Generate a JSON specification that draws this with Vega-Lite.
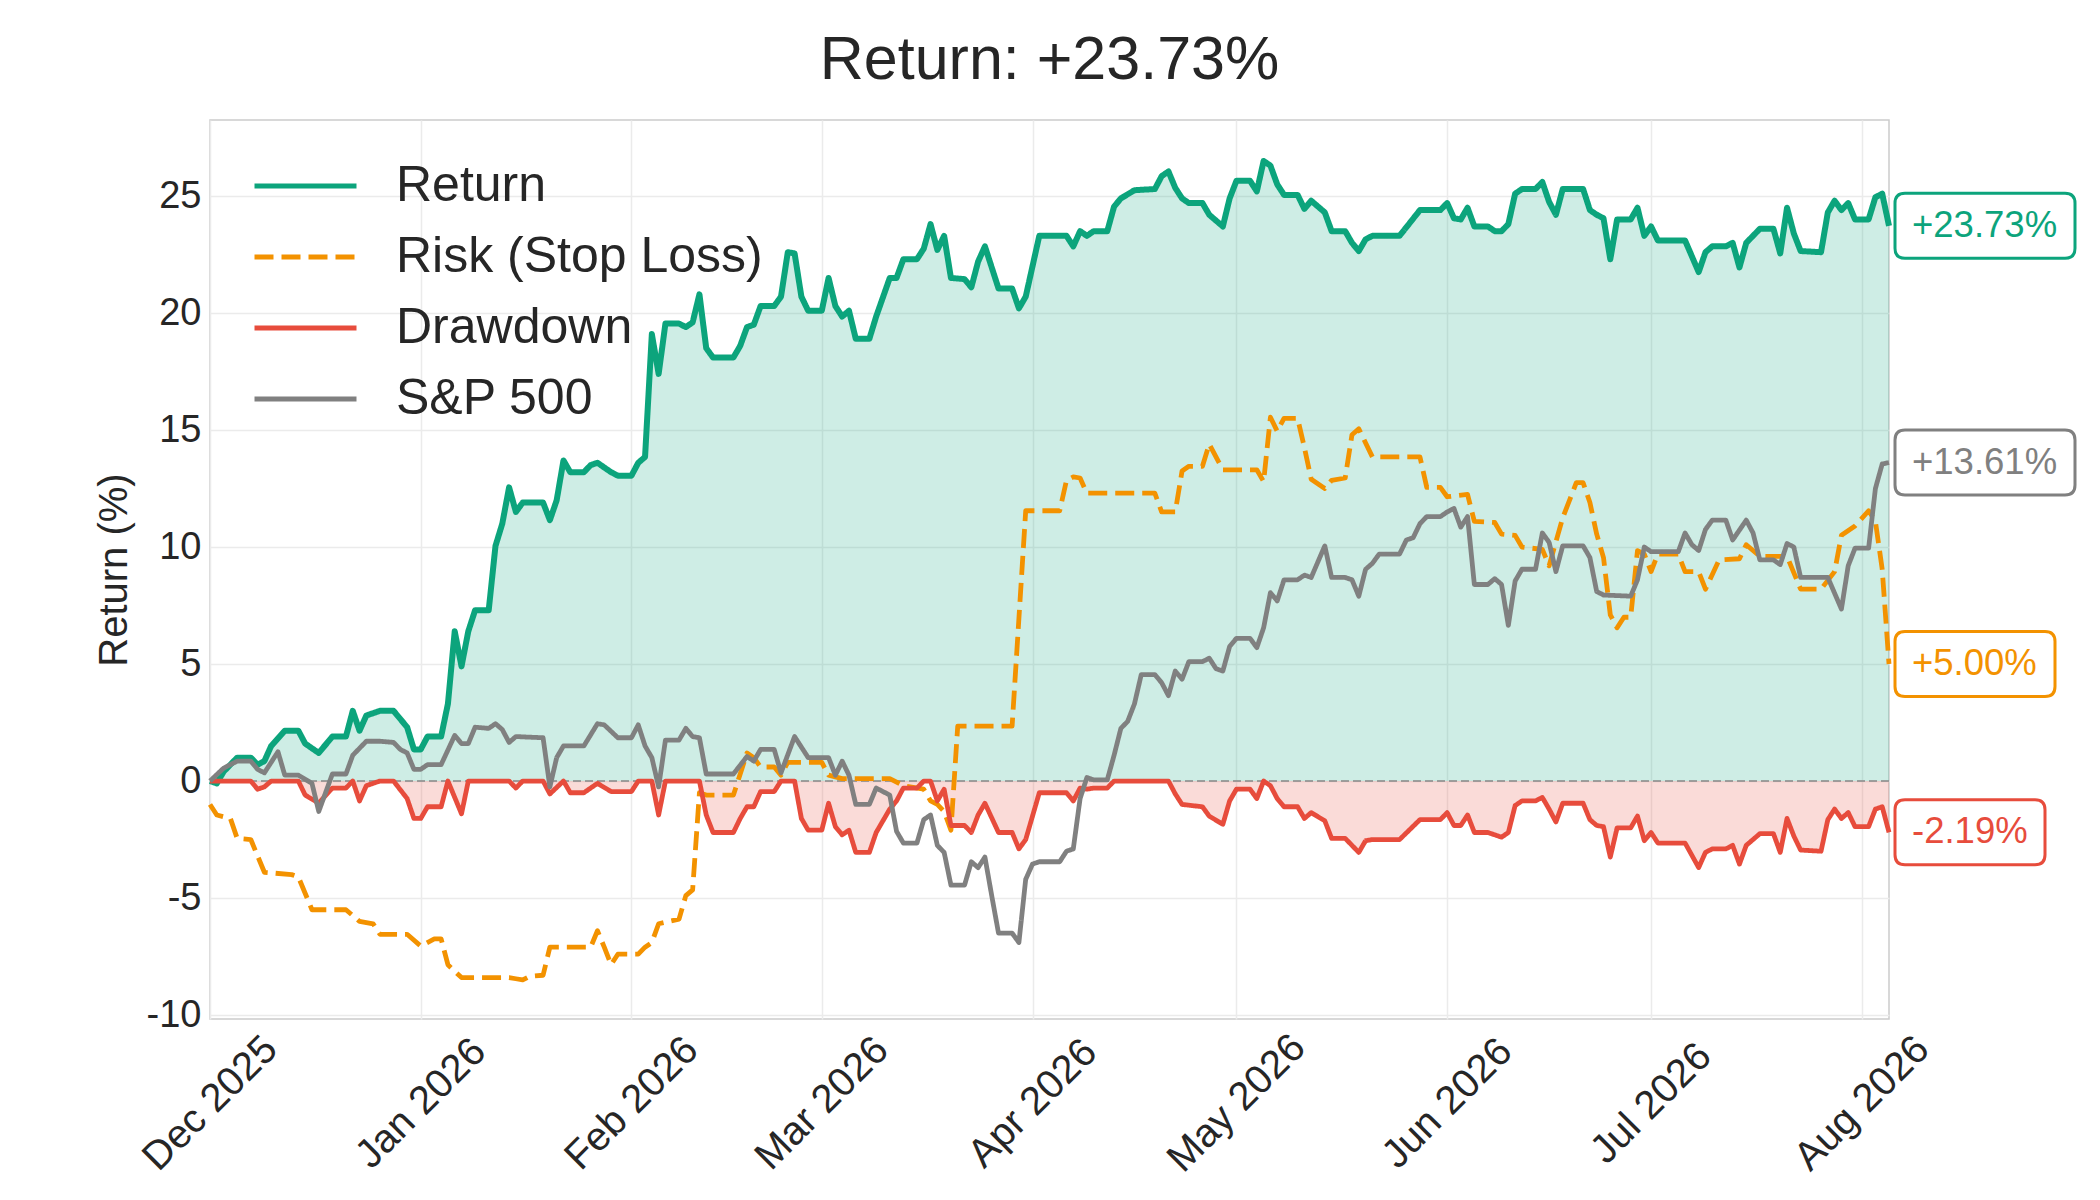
{
  "$schema": "https://vega.github.io/schema/vega-lite/v6.json",
  "description": "Strategy return vs risk, drawdown and S&P 500, Dec 2025 - Aug 2026.",
  "autosize": {"type": "none"},
  "padding": {"left": 210, "top": 120, "right": 211, "bottom": 181},
  "width": 1679,
  "height": 899,
  "background": "white",
  "title": {
    "text": "Return: +23.73%",
    "fontSize": 61,
    "fontWeight": "normal",
    "color": "#262626",
    "anchor": "middle",
    "baseline": "bottom",
    "offset": 29,
    "dy": 62
  },
  "config": {
    "font": "Liberation Sans",
    "view": {"stroke": "#cccccc", "strokeWidth": 1.5},
    "axis": {
      "labelFontSize": 38,
      "labelColor": "#262626",
      "titleColor": "#262626",
      "titleFontSize": 40,
      "titleFontWeight": "normal",
      "gridColor": "#ebebeb",
      "gridWidth": 1.5,
      "domain": false,
      "ticks": false
    }
  },
  "datasets": {
    "ends": [
      {"k": "R", "d": "2026-08-05", "v": 23.73, "lab": "+23.73%"},
      {"k": "S", "d": "2026-08-05", "v": 13.61, "lab": "+13.61%"},
      {"k": "K", "d": "2026-08-05", "v": 5.0, "lab": "+5.00%"},
      {"k": "D", "d": "2026-08-05", "v": -2.19, "lab": "-2.19%"}
    ]
  },
  "data": {
    "values": [
      {"d":"2025-12-01","s":"Return","v":0},
      {"d":"2025-12-02","s":"Return","v":-0.1},
      {"d":"2025-12-03","s":"Return","v":0.4},
      {"d":"2025-12-05","s":"Return","v":1.0},
      {"d":"2025-12-07","s":"Return","v":1.0},
      {"d":"2025-12-08","s":"Return","v":0.7},
      {"d":"2025-12-09","s":"Return","v":0.85},
      {"d":"2025-12-10","s":"Return","v":1.5},
      {"d":"2025-12-12","s":"Return","v":2.15},
      {"d":"2025-12-14","s":"Return","v":2.15},
      {"d":"2025-12-15","s":"Return","v":1.6},
      {"d":"2025-12-17","s":"Return","v":1.2},
      {"d":"2025-12-19","s":"Return","v":1.9},
      {"d":"2025-12-21","s":"Return","v":1.9},
      {"d":"2025-12-22","s":"Return","v":3.0},
      {"d":"2025-12-23","s":"Return","v":2.15},
      {"d":"2025-12-24","s":"Return","v":2.8},
      {"d":"2025-12-26","s":"Return","v":3.0},
      {"d":"2025-12-28","s":"Return","v":3.0},
      {"d":"2025-12-30","s":"Return","v":2.3},
      {"d":"2025-12-31","s":"Return","v":1.35},
      {"d":"2026-01-01","s":"Return","v":1.35},
      {"d":"2026-01-02","s":"Return","v":1.9},
      {"d":"2026-01-04","s":"Return","v":1.9},
      {"d":"2026-01-05","s":"Return","v":3.3},
      {"d":"2026-01-06","s":"Return","v":6.4},
      {"d":"2026-01-07","s":"Return","v":4.9},
      {"d":"2026-01-08","s":"Return","v":6.4},
      {"d":"2026-01-09","s":"Return","v":7.3},
      {"d":"2026-01-11","s":"Return","v":7.3},
      {"d":"2026-01-12","s":"Return","v":10.05},
      {"d":"2026-01-13","s":"Return","v":11.0},
      {"d":"2026-01-14","s":"Return","v":12.55},
      {"d":"2026-01-15","s":"Return","v":11.5},
      {"d":"2026-01-16","s":"Return","v":11.9},
      {"d":"2026-01-19","s":"Return","v":11.9},
      {"d":"2026-01-20","s":"Return","v":11.15},
      {"d":"2026-01-21","s":"Return","v":12.0},
      {"d":"2026-01-22","s":"Return","v":13.7},
      {"d":"2026-01-23","s":"Return","v":13.2},
      {"d":"2026-01-25","s":"Return","v":13.2},
      {"d":"2026-01-26","s":"Return","v":13.5},
      {"d":"2026-01-27","s":"Return","v":13.6},
      {"d":"2026-01-29","s":"Return","v":13.2},
      {"d":"2026-01-30","s":"Return","v":13.05},
      {"d":"2026-02-01","s":"Return","v":13.05},
      {"d":"2026-02-02","s":"Return","v":13.6},
      {"d":"2026-02-03","s":"Return","v":13.85},
      {"d":"2026-02-04","s":"Return","v":19.1},
      {"d":"2026-02-05","s":"Return","v":17.4},
      {"d":"2026-02-06","s":"Return","v":19.55},
      {"d":"2026-02-08","s":"Return","v":19.55},
      {"d":"2026-02-09","s":"Return","v":19.4},
      {"d":"2026-02-10","s":"Return","v":19.6},
      {"d":"2026-02-11","s":"Return","v":20.8},
      {"d":"2026-02-12","s":"Return","v":18.5},
      {"d":"2026-02-13","s":"Return","v":18.1},
      {"d":"2026-02-16","s":"Return","v":18.1},
      {"d":"2026-02-17","s":"Return","v":18.6},
      {"d":"2026-02-18","s":"Return","v":19.4},
      {"d":"2026-02-19","s":"Return","v":19.5},
      {"d":"2026-02-20","s":"Return","v":20.3},
      {"d":"2026-02-22","s":"Return","v":20.3},
      {"d":"2026-02-23","s":"Return","v":20.7},
      {"d":"2026-02-24","s":"Return","v":22.6},
      {"d":"2026-02-25","s":"Return","v":22.55},
      {"d":"2026-02-26","s":"Return","v":20.7},
      {"d":"2026-02-27","s":"Return","v":20.1},
      {"d":"2026-03-01","s":"Return","v":20.1},
      {"d":"2026-03-02","s":"Return","v":21.5},
      {"d":"2026-03-03","s":"Return","v":20.3},
      {"d":"2026-03-04","s":"Return","v":19.85},
      {"d":"2026-03-05","s":"Return","v":20.1},
      {"d":"2026-03-06","s":"Return","v":18.9},
      {"d":"2026-03-08","s":"Return","v":18.9},
      {"d":"2026-03-09","s":"Return","v":19.85},
      {"d":"2026-03-11","s":"Return","v":21.5},
      {"d":"2026-03-12","s":"Return","v":21.5},
      {"d":"2026-03-13","s":"Return","v":22.3},
      {"d":"2026-03-15","s":"Return","v":22.3},
      {"d":"2026-03-16","s":"Return","v":22.75},
      {"d":"2026-03-17","s":"Return","v":23.8},
      {"d":"2026-03-18","s":"Return","v":22.7},
      {"d":"2026-03-19","s":"Return","v":23.3},
      {"d":"2026-03-20","s":"Return","v":21.5},
      {"d":"2026-03-22","s":"Return","v":21.45},
      {"d":"2026-03-23","s":"Return","v":21.1},
      {"d":"2026-03-24","s":"Return","v":22.2},
      {"d":"2026-03-25","s":"Return","v":22.85},
      {"d":"2026-03-27","s":"Return","v":21.05},
      {"d":"2026-03-29","s":"Return","v":21.05},
      {"d":"2026-03-30","s":"Return","v":20.2},
      {"d":"2026-03-31","s":"Return","v":20.7},
      {"d":"2026-04-02","s":"Return","v":23.3},
      {"d":"2026-04-06","s":"Return","v":23.3},
      {"d":"2026-04-07","s":"Return","v":22.85},
      {"d":"2026-04-08","s":"Return","v":23.5},
      {"d":"2026-04-09","s":"Return","v":23.3},
      {"d":"2026-04-10","s":"Return","v":23.5},
      {"d":"2026-04-12","s":"Return","v":23.5},
      {"d":"2026-04-13","s":"Return","v":24.55},
      {"d":"2026-04-14","s":"Return","v":24.9},
      {"d":"2026-04-16","s":"Return","v":25.25},
      {"d":"2026-04-19","s":"Return","v":25.3},
      {"d":"2026-04-20","s":"Return","v":25.85},
      {"d":"2026-04-21","s":"Return","v":26.05},
      {"d":"2026-04-22","s":"Return","v":25.35},
      {"d":"2026-04-23","s":"Return","v":24.9},
      {"d":"2026-04-24","s":"Return","v":24.7},
      {"d":"2026-04-26","s":"Return","v":24.7},
      {"d":"2026-04-27","s":"Return","v":24.2},
      {"d":"2026-04-29","s":"Return","v":23.7},
      {"d":"2026-04-30","s":"Return","v":24.9},
      {"d":"2026-05-01","s":"Return","v":25.65},
      {"d":"2026-05-03","s":"Return","v":25.65},
      {"d":"2026-05-04","s":"Return","v":25.2},
      {"d":"2026-05-05","s":"Return","v":26.5},
      {"d":"2026-05-06","s":"Return","v":26.3},
      {"d":"2026-05-07","s":"Return","v":25.5},
      {"d":"2026-05-08","s":"Return","v":25.05},
      {"d":"2026-05-10","s":"Return","v":25.05},
      {"d":"2026-05-11","s":"Return","v":24.45},
      {"d":"2026-05-12","s":"Return","v":24.8},
      {"d":"2026-05-14","s":"Return","v":24.3},
      {"d":"2026-05-15","s":"Return","v":23.5},
      {"d":"2026-05-17","s":"Return","v":23.5},
      {"d":"2026-05-18","s":"Return","v":23.0},
      {"d":"2026-05-19","s":"Return","v":22.65},
      {"d":"2026-05-20","s":"Return","v":23.15},
      {"d":"2026-05-21","s":"Return","v":23.3},
      {"d":"2026-05-25","s":"Return","v":23.3},
      {"d":"2026-05-28","s":"Return","v":24.4},
      {"d":"2026-05-31","s":"Return","v":24.4},
      {"d":"2026-06-01","s":"Return","v":24.7},
      {"d":"2026-06-02","s":"Return","v":24.05},
      {"d":"2026-06-03","s":"Return","v":24.0},
      {"d":"2026-06-04","s":"Return","v":24.5},
      {"d":"2026-06-05","s":"Return","v":23.7},
      {"d":"2026-06-07","s":"Return","v":23.7},
      {"d":"2026-06-08","s":"Return","v":23.5},
      {"d":"2026-06-09","s":"Return","v":23.5},
      {"d":"2026-06-10","s":"Return","v":23.8},
      {"d":"2026-06-11","s":"Return","v":25.1},
      {"d":"2026-06-12","s":"Return","v":25.3},
      {"d":"2026-06-14","s":"Return","v":25.3},
      {"d":"2026-06-15","s":"Return","v":25.6},
      {"d":"2026-06-16","s":"Return","v":24.75},
      {"d":"2026-06-17","s":"Return","v":24.2},
      {"d":"2026-06-18","s":"Return","v":25.3},
      {"d":"2026-06-21","s":"Return","v":25.3},
      {"d":"2026-06-22","s":"Return","v":24.4},
      {"d":"2026-06-23","s":"Return","v":24.2},
      {"d":"2026-06-24","s":"Return","v":24.05},
      {"d":"2026-06-25","s":"Return","v":22.3},
      {"d":"2026-06-26","s":"Return","v":24.0},
      {"d":"2026-06-28","s":"Return","v":24.0},
      {"d":"2026-06-29","s":"Return","v":24.5},
      {"d":"2026-06-30","s":"Return","v":23.3},
      {"d":"2026-07-01","s":"Return","v":23.7},
      {"d":"2026-07-02","s":"Return","v":23.1},
      {"d":"2026-07-06","s":"Return","v":23.1},
      {"d":"2026-07-08","s":"Return","v":21.75},
      {"d":"2026-07-09","s":"Return","v":22.6},
      {"d":"2026-07-10","s":"Return","v":22.85},
      {"d":"2026-07-12","s":"Return","v":22.85},
      {"d":"2026-07-13","s":"Return","v":23.0},
      {"d":"2026-07-14","s":"Return","v":21.95},
      {"d":"2026-07-15","s":"Return","v":23.0},
      {"d":"2026-07-17","s":"Return","v":23.6},
      {"d":"2026-07-19","s":"Return","v":23.6},
      {"d":"2026-07-20","s":"Return","v":22.55},
      {"d":"2026-07-21","s":"Return","v":24.5},
      {"d":"2026-07-22","s":"Return","v":23.4},
      {"d":"2026-07-23","s":"Return","v":22.65},
      {"d":"2026-07-26","s":"Return","v":22.6},
      {"d":"2026-07-27","s":"Return","v":24.3},
      {"d":"2026-07-28","s":"Return","v":24.8},
      {"d":"2026-07-29","s":"Return","v":24.4},
      {"d":"2026-07-30","s":"Return","v":24.7},
      {"d":"2026-07-31","s":"Return","v":24.0},
      {"d":"2026-08-02","s":"Return","v":24.0},
      {"d":"2026-08-03","s":"Return","v":24.95},
      {"d":"2026-08-04","s":"Return","v":25.1},
      {"d":"2026-08-05","s":"Return","v":23.73},

      {"d":"2025-12-01","s":"Risk (Stop Loss)","v":-1.0},
      {"d":"2025-12-02","s":"Risk (Stop Loss)","v":-1.45},
      {"d":"2025-12-04","s":"Risk (Stop Loss)","v":-1.6},
      {"d":"2025-12-05","s":"Risk (Stop Loss)","v":-2.45},
      {"d":"2025-12-07","s":"Risk (Stop Loss)","v":-2.5},
      {"d":"2025-12-09","s":"Risk (Stop Loss)","v":-3.9},
      {"d":"2025-12-13","s":"Risk (Stop Loss)","v":-4.0},
      {"d":"2025-12-14","s":"Risk (Stop Loss)","v":-4.1},
      {"d":"2025-12-16","s":"Risk (Stop Loss)","v":-5.5},
      {"d":"2025-12-21","s":"Risk (Stop Loss)","v":-5.5},
      {"d":"2025-12-23","s":"Risk (Stop Loss)","v":-6.0},
      {"d":"2025-12-25","s":"Risk (Stop Loss)","v":-6.1},
      {"d":"2025-12-26","s":"Risk (Stop Loss)","v":-6.55},
      {"d":"2025-12-30","s":"Risk (Stop Loss)","v":-6.55},
      {"d":"2026-01-01","s":"Risk (Stop Loss)","v":-7.05},
      {"d":"2026-01-03","s":"Risk (Stop Loss)","v":-6.75},
      {"d":"2026-01-04","s":"Risk (Stop Loss)","v":-6.75},
      {"d":"2026-01-05","s":"Risk (Stop Loss)","v":-7.85},
      {"d":"2026-01-07","s":"Risk (Stop Loss)","v":-8.4},
      {"d":"2026-01-14","s":"Risk (Stop Loss)","v":-8.4},
      {"d":"2026-01-15","s":"Risk (Stop Loss)","v":-8.45},
      {"d":"2026-01-16","s":"Risk (Stop Loss)","v":-8.5},
      {"d":"2026-01-17","s":"Risk (Stop Loss)","v":-8.35},
      {"d":"2026-01-19","s":"Risk (Stop Loss)","v":-8.3},
      {"d":"2026-01-20","s":"Risk (Stop Loss)","v":-7.1},
      {"d":"2026-01-26","s":"Risk (Stop Loss)","v":-7.1},
      {"d":"2026-01-27","s":"Risk (Stop Loss)","v":-6.4},
      {"d":"2026-01-28","s":"Risk (Stop Loss)","v":-7.1},
      {"d":"2026-01-29","s":"Risk (Stop Loss)","v":-7.85},
      {"d":"2026-01-30","s":"Risk (Stop Loss)","v":-7.4},
      {"d":"2026-02-02","s":"Risk (Stop Loss)","v":-7.4},
      {"d":"2026-02-03","s":"Risk (Stop Loss)","v":-7.1},
      {"d":"2026-02-04","s":"Risk (Stop Loss)","v":-6.9},
      {"d":"2026-02-05","s":"Risk (Stop Loss)","v":-6.1},
      {"d":"2026-02-08","s":"Risk (Stop Loss)","v":-5.9},
      {"d":"2026-02-09","s":"Risk (Stop Loss)","v":-4.9},
      {"d":"2026-02-10","s":"Risk (Stop Loss)","v":-4.65},
      {"d":"2026-02-11","s":"Risk (Stop Loss)","v":-0.5},
      {"d":"2026-02-12","s":"Risk (Stop Loss)","v":-0.6},
      {"d":"2026-02-16","s":"Risk (Stop Loss)","v":-0.6},
      {"d":"2026-02-18","s":"Risk (Stop Loss)","v":1.2},
      {"d":"2026-02-19","s":"Risk (Stop Loss)","v":1.0},
      {"d":"2026-02-20","s":"Risk (Stop Loss)","v":0.6},
      {"d":"2026-02-22","s":"Risk (Stop Loss)","v":0.6},
      {"d":"2026-02-23","s":"Risk (Stop Loss)","v":0.25},
      {"d":"2026-02-24","s":"Risk (Stop Loss)","v":0.8},
      {"d":"2026-03-01","s":"Risk (Stop Loss)","v":0.8},
      {"d":"2026-03-02","s":"Risk (Stop Loss)","v":0.25},
      {"d":"2026-03-04","s":"Risk (Stop Loss)","v":0.1},
      {"d":"2026-03-11","s":"Risk (Stop Loss)","v":0.1},
      {"d":"2026-03-13","s":"Risk (Stop Loss)","v":-0.2},
      {"d":"2026-03-16","s":"Risk (Stop Loss)","v":-0.35},
      {"d":"2026-03-17","s":"Risk (Stop Loss)","v":-0.85},
      {"d":"2026-03-18","s":"Risk (Stop Loss)","v":-1.0},
      {"d":"2026-03-19","s":"Risk (Stop Loss)","v":-1.3},
      {"d":"2026-03-20","s":"Risk (Stop Loss)","v":-2.1},
      {"d":"2026-03-21","s":"Risk (Stop Loss)","v":2.35},
      {"d":"2026-03-29","s":"Risk (Stop Loss)","v":2.35},
      {"d":"2026-03-31","s":"Risk (Stop Loss)","v":11.55},
      {"d":"2026-04-05","s":"Risk (Stop Loss)","v":11.55},
      {"d":"2026-04-06","s":"Risk (Stop Loss)","v":12.85},
      {"d":"2026-04-07","s":"Risk (Stop Loss)","v":13.0},
      {"d":"2026-04-08","s":"Risk (Stop Loss)","v":12.95},
      {"d":"2026-04-09","s":"Risk (Stop Loss)","v":12.3},
      {"d":"2026-04-19","s":"Risk (Stop Loss)","v":12.3},
      {"d":"2026-04-20","s":"Risk (Stop Loss)","v":11.5},
      {"d":"2026-04-22","s":"Risk (Stop Loss)","v":11.5},
      {"d":"2026-04-23","s":"Risk (Stop Loss)","v":13.25},
      {"d":"2026-04-24","s":"Risk (Stop Loss)","v":13.45},
      {"d":"2026-04-26","s":"Risk (Stop Loss)","v":13.45},
      {"d":"2026-04-27","s":"Risk (Stop Loss)","v":14.4},
      {"d":"2026-04-29","s":"Risk (Stop Loss)","v":13.3},
      {"d":"2026-05-04","s":"Risk (Stop Loss)","v":13.3},
      {"d":"2026-05-05","s":"Risk (Stop Loss)","v":12.8},
      {"d":"2026-05-06","s":"Risk (Stop Loss)","v":15.55},
      {"d":"2026-05-07","s":"Risk (Stop Loss)","v":14.95},
      {"d":"2026-05-08","s":"Risk (Stop Loss)","v":15.5},
      {"d":"2026-05-10","s":"Risk (Stop Loss)","v":15.5},
      {"d":"2026-05-11","s":"Risk (Stop Loss)","v":14.25},
      {"d":"2026-05-12","s":"Risk (Stop Loss)","v":12.9},
      {"d":"2026-05-14","s":"Risk (Stop Loss)","v":12.5},
      {"d":"2026-05-15","s":"Risk (Stop Loss)","v":12.85},
      {"d":"2026-05-17","s":"Risk (Stop Loss)","v":12.95},
      {"d":"2026-05-18","s":"Risk (Stop Loss)","v":14.8},
      {"d":"2026-05-19","s":"Risk (Stop Loss)","v":15.05},
      {"d":"2026-05-21","s":"Risk (Stop Loss)","v":13.85},
      {"d":"2026-05-28","s":"Risk (Stop Loss)","v":13.85},
      {"d":"2026-05-29","s":"Risk (Stop Loss)","v":12.55},
      {"d":"2026-05-31","s":"Risk (Stop Loss)","v":12.55},
      {"d":"2026-06-01","s":"Risk (Stop Loss)","v":12.15},
      {"d":"2026-06-04","s":"Risk (Stop Loss)","v":12.25},
      {"d":"2026-06-05","s":"Risk (Stop Loss)","v":11.1},
      {"d":"2026-06-08","s":"Risk (Stop Loss)","v":11.05},
      {"d":"2026-06-09","s":"Risk (Stop Loss)","v":10.55},
      {"d":"2026-06-11","s":"Risk (Stop Loss)","v":10.5},
      {"d":"2026-06-12","s":"Risk (Stop Loss)","v":10.0},
      {"d":"2026-06-15","s":"Risk (Stop Loss)","v":9.9},
      {"d":"2026-06-16","s":"Risk (Stop Loss)","v":9.2},
      {"d":"2026-06-18","s":"Risk (Stop Loss)","v":11.25},
      {"d":"2026-06-20","s":"Risk (Stop Loss)","v":12.75},
      {"d":"2026-06-21","s":"Risk (Stop Loss)","v":12.75},
      {"d":"2026-06-22","s":"Risk (Stop Loss)","v":11.9},
      {"d":"2026-06-23","s":"Risk (Stop Loss)","v":10.55},
      {"d":"2026-06-24","s":"Risk (Stop Loss)","v":9.55},
      {"d":"2026-06-25","s":"Risk (Stop Loss)","v":7.1},
      {"d":"2026-06-26","s":"Risk (Stop Loss)","v":6.55},
      {"d":"2026-06-27","s":"Risk (Stop Loss)","v":7.0},
      {"d":"2026-06-28","s":"Risk (Stop Loss)","v":7.0},
      {"d":"2026-06-29","s":"Risk (Stop Loss)","v":9.85},
      {"d":"2026-06-30","s":"Risk (Stop Loss)","v":9.7},
      {"d":"2026-07-01","s":"Risk (Stop Loss)","v":8.95},
      {"d":"2026-07-02","s":"Risk (Stop Loss)","v":9.7},
      {"d":"2026-07-05","s":"Risk (Stop Loss)","v":9.7},
      {"d":"2026-07-06","s":"Risk (Stop Loss)","v":8.95},
      {"d":"2026-07-08","s":"Risk (Stop Loss)","v":8.95},
      {"d":"2026-07-09","s":"Risk (Stop Loss)","v":8.2},
      {"d":"2026-07-11","s":"Risk (Stop Loss)","v":9.45},
      {"d":"2026-07-14","s":"Risk (Stop Loss)","v":9.5},
      {"d":"2026-07-15","s":"Risk (Stop Loss)","v":10.1},
      {"d":"2026-07-17","s":"Risk (Stop Loss)","v":9.6},
      {"d":"2026-07-21","s":"Risk (Stop Loss)","v":9.6},
      {"d":"2026-07-23","s":"Risk (Stop Loss)","v":8.2},
      {"d":"2026-07-26","s":"Risk (Stop Loss)","v":8.2},
      {"d":"2026-07-28","s":"Risk (Stop Loss)","v":8.95},
      {"d":"2026-07-29","s":"Risk (Stop Loss)","v":10.5},
      {"d":"2026-07-31","s":"Risk (Stop Loss)","v":10.9},
      {"d":"2026-08-02","s":"Risk (Stop Loss)","v":11.55},
      {"d":"2026-08-03","s":"Risk (Stop Loss)","v":11.1},
      {"d":"2026-08-04","s":"Risk (Stop Loss)","v":9.05},
      {"d":"2026-08-05","s":"Risk (Stop Loss)","v":5.0},

      {"d":"2025-12-01","s":"Drawdown","v":0},
      {"d":"2025-12-07","s":"Drawdown","v":0},
      {"d":"2025-12-08","s":"Drawdown","v":-0.35},
      {"d":"2025-12-09","s":"Drawdown","v":-0.25},
      {"d":"2025-12-10","s":"Drawdown","v":0},
      {"d":"2025-12-14","s":"Drawdown","v":0},
      {"d":"2025-12-15","s":"Drawdown","v":-0.6},
      {"d":"2025-12-17","s":"Drawdown","v":-0.95},
      {"d":"2025-12-19","s":"Drawdown","v":-0.3},
      {"d":"2025-12-21","s":"Drawdown","v":-0.3},
      {"d":"2025-12-22","s":"Drawdown","v":0},
      {"d":"2025-12-23","s":"Drawdown","v":-0.85},
      {"d":"2025-12-24","s":"Drawdown","v":-0.2},
      {"d":"2025-12-26","s":"Drawdown","v":0},
      {"d":"2025-12-28","s":"Drawdown","v":0},
      {"d":"2025-12-30","s":"Drawdown","v":-0.75},
      {"d":"2025-12-31","s":"Drawdown","v":-1.6},
      {"d":"2026-01-01","s":"Drawdown","v":-1.6},
      {"d":"2026-01-02","s":"Drawdown","v":-1.1},
      {"d":"2026-01-04","s":"Drawdown","v":-1.1},
      {"d":"2026-01-05","s":"Drawdown","v":0},
      {"d":"2026-01-07","s":"Drawdown","v":-1.4},
      {"d":"2026-01-08","s":"Drawdown","v":0},
      {"d":"2026-01-14","s":"Drawdown","v":0},
      {"d":"2026-01-15","s":"Drawdown","v":-0.3},
      {"d":"2026-01-16","s":"Drawdown","v":0},
      {"d":"2026-01-19","s":"Drawdown","v":0},
      {"d":"2026-01-20","s":"Drawdown","v":-0.55},
      {"d":"2026-01-22","s":"Drawdown","v":0},
      {"d":"2026-01-23","s":"Drawdown","v":-0.5},
      {"d":"2026-01-25","s":"Drawdown","v":-0.5},
      {"d":"2026-01-27","s":"Drawdown","v":-0.1},
      {"d":"2026-01-29","s":"Drawdown","v":-0.45},
      {"d":"2026-02-01","s":"Drawdown","v":-0.45},
      {"d":"2026-02-02","s":"Drawdown","v":0},
      {"d":"2026-02-04","s":"Drawdown","v":0},
      {"d":"2026-02-05","s":"Drawdown","v":-1.45},
      {"d":"2026-02-06","s":"Drawdown","v":0},
      {"d":"2026-02-11","s":"Drawdown","v":0},
      {"d":"2026-02-12","s":"Drawdown","v":-1.45},
      {"d":"2026-02-13","s":"Drawdown","v":-2.2},
      {"d":"2026-02-16","s":"Drawdown","v":-2.2},
      {"d":"2026-02-17","s":"Drawdown","v":-1.6},
      {"d":"2026-02-18","s":"Drawdown","v":-1.1},
      {"d":"2026-02-19","s":"Drawdown","v":-1.1},
      {"d":"2026-02-20","s":"Drawdown","v":-0.45},
      {"d":"2026-02-22","s":"Drawdown","v":-0.45},
      {"d":"2026-02-23","s":"Drawdown","v":0},
      {"d":"2026-02-25","s":"Drawdown","v":0},
      {"d":"2026-02-26","s":"Drawdown","v":-1.6},
      {"d":"2026-02-27","s":"Drawdown","v":-2.1},
      {"d":"2026-03-01","s":"Drawdown","v":-2.1},
      {"d":"2026-03-02","s":"Drawdown","v":-0.95},
      {"d":"2026-03-03","s":"Drawdown","v":-1.95},
      {"d":"2026-03-04","s":"Drawdown","v":-2.3},
      {"d":"2026-03-05","s":"Drawdown","v":-2.1},
      {"d":"2026-03-06","s":"Drawdown","v":-3.05},
      {"d":"2026-03-08","s":"Drawdown","v":-3.05},
      {"d":"2026-03-09","s":"Drawdown","v":-2.2},
      {"d":"2026-03-11","s":"Drawdown","v":-1.2},
      {"d":"2026-03-12","s":"Drawdown","v":-0.85},
      {"d":"2026-03-13","s":"Drawdown","v":-0.3},
      {"d":"2026-03-15","s":"Drawdown","v":-0.3},
      {"d":"2026-03-16","s":"Drawdown","v":0},
      {"d":"2026-03-17","s":"Drawdown","v":0},
      {"d":"2026-03-18","s":"Drawdown","v":-0.85},
      {"d":"2026-03-19","s":"Drawdown","v":-0.35},
      {"d":"2026-03-20","s":"Drawdown","v":-1.9},
      {"d":"2026-03-22","s":"Drawdown","v":-1.9},
      {"d":"2026-03-23","s":"Drawdown","v":-2.2},
      {"d":"2026-03-24","s":"Drawdown","v":-1.45},
      {"d":"2026-03-25","s":"Drawdown","v":-0.95},
      {"d":"2026-03-27","s":"Drawdown","v":-2.2},
      {"d":"2026-03-29","s":"Drawdown","v":-2.2},
      {"d":"2026-03-30","s":"Drawdown","v":-2.9},
      {"d":"2026-03-31","s":"Drawdown","v":-2.5},
      {"d":"2026-04-02","s":"Drawdown","v":-0.5},
      {"d":"2026-04-06","s":"Drawdown","v":-0.5},
      {"d":"2026-04-07","s":"Drawdown","v":-0.85},
      {"d":"2026-04-08","s":"Drawdown","v":-0.3},
      {"d":"2026-04-09","s":"Drawdown","v":-0.35},
      {"d":"2026-04-10","s":"Drawdown","v":-0.3},
      {"d":"2026-04-12","s":"Drawdown","v":-0.3},
      {"d":"2026-04-13","s":"Drawdown","v":0},
      {"d":"2026-04-21","s":"Drawdown","v":0},
      {"d":"2026-04-22","s":"Drawdown","v":-0.55},
      {"d":"2026-04-23","s":"Drawdown","v":-1.0},
      {"d":"2026-04-26","s":"Drawdown","v":-1.1},
      {"d":"2026-04-27","s":"Drawdown","v":-1.5},
      {"d":"2026-04-29","s":"Drawdown","v":-1.85},
      {"d":"2026-04-30","s":"Drawdown","v":-0.85},
      {"d":"2026-05-01","s":"Drawdown","v":-0.35},
      {"d":"2026-05-03","s":"Drawdown","v":-0.35},
      {"d":"2026-05-04","s":"Drawdown","v":-0.75},
      {"d":"2026-05-05","s":"Drawdown","v":0},
      {"d":"2026-05-06","s":"Drawdown","v":-0.2},
      {"d":"2026-05-07","s":"Drawdown","v":-0.75},
      {"d":"2026-05-08","s":"Drawdown","v":-1.1},
      {"d":"2026-05-10","s":"Drawdown","v":-1.1},
      {"d":"2026-05-11","s":"Drawdown","v":-1.6},
      {"d":"2026-05-12","s":"Drawdown","v":-1.35},
      {"d":"2026-05-14","s":"Drawdown","v":-1.7},
      {"d":"2026-05-15","s":"Drawdown","v":-2.45},
      {"d":"2026-05-17","s":"Drawdown","v":-2.45},
      {"d":"2026-05-18","s":"Drawdown","v":-2.75},
      {"d":"2026-05-19","s":"Drawdown","v":-3.05},
      {"d":"2026-05-20","s":"Drawdown","v":-2.55},
      {"d":"2026-05-21","s":"Drawdown","v":-2.5},
      {"d":"2026-05-25","s":"Drawdown","v":-2.5},
      {"d":"2026-05-28","s":"Drawdown","v":-1.65},
      {"d":"2026-05-31","s":"Drawdown","v":-1.65},
      {"d":"2026-06-01","s":"Drawdown","v":-1.35},
      {"d":"2026-06-02","s":"Drawdown","v":-1.9},
      {"d":"2026-06-03","s":"Drawdown","v":-1.9},
      {"d":"2026-06-04","s":"Drawdown","v":-1.45},
      {"d":"2026-06-05","s":"Drawdown","v":-2.2},
      {"d":"2026-06-07","s":"Drawdown","v":-2.2},
      {"d":"2026-06-09","s":"Drawdown","v":-2.4},
      {"d":"2026-06-10","s":"Drawdown","v":-2.2},
      {"d":"2026-06-11","s":"Drawdown","v":-1.05},
      {"d":"2026-06-12","s":"Drawdown","v":-0.85},
      {"d":"2026-06-14","s":"Drawdown","v":-0.85},
      {"d":"2026-06-15","s":"Drawdown","v":-0.7},
      {"d":"2026-06-16","s":"Drawdown","v":-1.2},
      {"d":"2026-06-17","s":"Drawdown","v":-1.75},
      {"d":"2026-06-18","s":"Drawdown","v":-0.95},
      {"d":"2026-06-21","s":"Drawdown","v":-0.95},
      {"d":"2026-06-22","s":"Drawdown","v":-1.65},
      {"d":"2026-06-23","s":"Drawdown","v":-1.9},
      {"d":"2026-06-24","s":"Drawdown","v":-1.95},
      {"d":"2026-06-25","s":"Drawdown","v":-3.25},
      {"d":"2026-06-26","s":"Drawdown","v":-2.0},
      {"d":"2026-06-28","s":"Drawdown","v":-2.0},
      {"d":"2026-06-29","s":"Drawdown","v":-1.5},
      {"d":"2026-06-30","s":"Drawdown","v":-2.55},
      {"d":"2026-07-01","s":"Drawdown","v":-2.2},
      {"d":"2026-07-02","s":"Drawdown","v":-2.65},
      {"d":"2026-07-06","s":"Drawdown","v":-2.65},
      {"d":"2026-07-08","s":"Drawdown","v":-3.7},
      {"d":"2026-07-09","s":"Drawdown","v":-3.05},
      {"d":"2026-07-10","s":"Drawdown","v":-2.9},
      {"d":"2026-07-12","s":"Drawdown","v":-2.9},
      {"d":"2026-07-13","s":"Drawdown","v":-2.75},
      {"d":"2026-07-14","s":"Drawdown","v":-3.55},
      {"d":"2026-07-15","s":"Drawdown","v":-2.75},
      {"d":"2026-07-17","s":"Drawdown","v":-2.25},
      {"d":"2026-07-19","s":"Drawdown","v":-2.25},
      {"d":"2026-07-20","s":"Drawdown","v":-3.05},
      {"d":"2026-07-21","s":"Drawdown","v":-1.6},
      {"d":"2026-07-22","s":"Drawdown","v":-2.35},
      {"d":"2026-07-23","s":"Drawdown","v":-2.95},
      {"d":"2026-07-26","s":"Drawdown","v":-3.0},
      {"d":"2026-07-27","s":"Drawdown","v":-1.65},
      {"d":"2026-07-28","s":"Drawdown","v":-1.2},
      {"d":"2026-07-29","s":"Drawdown","v":-1.6},
      {"d":"2026-07-30","s":"Drawdown","v":-1.35},
      {"d":"2026-07-31","s":"Drawdown","v":-1.95},
      {"d":"2026-08-02","s":"Drawdown","v":-1.95},
      {"d":"2026-08-03","s":"Drawdown","v":-1.2},
      {"d":"2026-08-04","s":"Drawdown","v":-1.1},
      {"d":"2026-08-05","s":"Drawdown","v":-2.19},

      {"d":"2025-12-01","s":"S&P 500","v":0},
      {"d":"2025-12-03","s":"S&P 500","v":0.55},
      {"d":"2025-12-05","s":"S&P 500","v":0.85},
      {"d":"2025-12-07","s":"S&P 500","v":0.85},
      {"d":"2025-12-08","s":"S&P 500","v":0.5},
      {"d":"2025-12-09","s":"S&P 500","v":0.35},
      {"d":"2025-12-11","s":"S&P 500","v":1.25},
      {"d":"2025-12-12","s":"S&P 500","v":0.25},
      {"d":"2025-12-14","s":"S&P 500","v":0.25},
      {"d":"2025-12-16","s":"S&P 500","v":-0.1},
      {"d":"2025-12-17","s":"S&P 500","v":-1.3},
      {"d":"2025-12-19","s":"S&P 500","v":0.3},
      {"d":"2025-12-21","s":"S&P 500","v":0.3},
      {"d":"2025-12-22","s":"S&P 500","v":1.1},
      {"d":"2025-12-24","s":"S&P 500","v":1.7},
      {"d":"2025-12-26","s":"S&P 500","v":1.7},
      {"d":"2025-12-28","s":"S&P 500","v":1.65},
      {"d":"2025-12-29","s":"S&P 500","v":1.35},
      {"d":"2025-12-30","s":"S&P 500","v":1.2},
      {"d":"2025-12-31","s":"S&P 500","v":0.5},
      {"d":"2026-01-01","s":"S&P 500","v":0.5},
      {"d":"2026-01-02","s":"S&P 500","v":0.7},
      {"d":"2026-01-04","s":"S&P 500","v":0.7},
      {"d":"2026-01-06","s":"S&P 500","v":1.95},
      {"d":"2026-01-07","s":"S&P 500","v":1.6},
      {"d":"2026-01-08","s":"S&P 500","v":1.6},
      {"d":"2026-01-09","s":"S&P 500","v":2.3},
      {"d":"2026-01-11","s":"S&P 500","v":2.25},
      {"d":"2026-01-12","s":"S&P 500","v":2.45},
      {"d":"2026-01-13","s":"S&P 500","v":2.2},
      {"d":"2026-01-14","s":"S&P 500","v":1.65},
      {"d":"2026-01-15","s":"S&P 500","v":1.9},
      {"d":"2026-01-19","s":"S&P 500","v":1.85},
      {"d":"2026-01-20","s":"S&P 500","v":-0.25},
      {"d":"2026-01-21","s":"S&P 500","v":1.0},
      {"d":"2026-01-22","s":"S&P 500","v":1.5},
      {"d":"2026-01-25","s":"S&P 500","v":1.5},
      {"d":"2026-01-27","s":"S&P 500","v":2.45},
      {"d":"2026-01-28","s":"S&P 500","v":2.4},
      {"d":"2026-01-30","s":"S&P 500","v":1.85},
      {"d":"2026-02-01","s":"S&P 500","v":1.85},
      {"d":"2026-02-02","s":"S&P 500","v":2.4},
      {"d":"2026-02-03","s":"S&P 500","v":1.5},
      {"d":"2026-02-04","s":"S&P 500","v":1.0},
      {"d":"2026-02-05","s":"S&P 500","v":-0.25},
      {"d":"2026-02-06","s":"S&P 500","v":1.75},
      {"d":"2026-02-08","s":"S&P 500","v":1.75},
      {"d":"2026-02-09","s":"S&P 500","v":2.25},
      {"d":"2026-02-10","s":"S&P 500","v":1.9},
      {"d":"2026-02-11","s":"S&P 500","v":1.85},
      {"d":"2026-02-12","s":"S&P 500","v":0.3},
      {"d":"2026-02-16","s":"S&P 500","v":0.3},
      {"d":"2026-02-18","s":"S&P 500","v":1.05},
      {"d":"2026-02-19","s":"S&P 500","v":0.85},
      {"d":"2026-02-20","s":"S&P 500","v":1.35},
      {"d":"2026-02-22","s":"S&P 500","v":1.35},
      {"d":"2026-02-23","s":"S&P 500","v":0.35},
      {"d":"2026-02-25","s":"S&P 500","v":1.9},
      {"d":"2026-02-27","s":"S&P 500","v":1.0},
      {"d":"2026-03-02","s":"S&P 500","v":1.0},
      {"d":"2026-03-03","s":"S&P 500","v":0.25},
      {"d":"2026-03-04","s":"S&P 500","v":0.85},
      {"d":"2026-03-05","s":"S&P 500","v":0.25},
      {"d":"2026-03-06","s":"S&P 500","v":-1.0},
      {"d":"2026-03-08","s":"S&P 500","v":-1.0},
      {"d":"2026-03-09","s":"S&P 500","v":-0.3},
      {"d":"2026-03-11","s":"S&P 500","v":-0.6},
      {"d":"2026-03-12","s":"S&P 500","v":-2.15},
      {"d":"2026-03-13","s":"S&P 500","v":-2.65},
      {"d":"2026-03-15","s":"S&P 500","v":-2.65},
      {"d":"2026-03-16","s":"S&P 500","v":-1.65},
      {"d":"2026-03-17","s":"S&P 500","v":-1.45},
      {"d":"2026-03-18","s":"S&P 500","v":-2.75},
      {"d":"2026-03-19","s":"S&P 500","v":-3.05},
      {"d":"2026-03-20","s":"S&P 500","v":-4.45},
      {"d":"2026-03-22","s":"S&P 500","v":-4.45},
      {"d":"2026-03-23","s":"S&P 500","v":-3.45},
      {"d":"2026-03-24","s":"S&P 500","v":-3.7},
      {"d":"2026-03-25","s":"S&P 500","v":-3.25},
      {"d":"2026-03-26","s":"S&P 500","v":-4.9},
      {"d":"2026-03-27","s":"S&P 500","v":-6.5},
      {"d":"2026-03-29","s":"S&P 500","v":-6.5},
      {"d":"2026-03-30","s":"S&P 500","v":-6.9},
      {"d":"2026-03-31","s":"S&P 500","v":-4.2},
      {"d":"2026-04-01","s":"S&P 500","v":-3.55},
      {"d":"2026-04-02","s":"S&P 500","v":-3.45},
      {"d":"2026-04-05","s":"S&P 500","v":-3.45},
      {"d":"2026-04-06","s":"S&P 500","v":-3.0},
      {"d":"2026-04-07","s":"S&P 500","v":-2.9},
      {"d":"2026-04-08","s":"S&P 500","v":-0.75},
      {"d":"2026-04-09","s":"S&P 500","v":0.15},
      {"d":"2026-04-10","s":"S&P 500","v":0.05},
      {"d":"2026-04-12","s":"S&P 500","v":0.05},
      {"d":"2026-04-13","s":"S&P 500","v":1.1},
      {"d":"2026-04-14","s":"S&P 500","v":2.25},
      {"d":"2026-04-15","s":"S&P 500","v":2.55},
      {"d":"2026-04-16","s":"S&P 500","v":3.3},
      {"d":"2026-04-17","s":"S&P 500","v":4.55},
      {"d":"2026-04-19","s":"S&P 500","v":4.55},
      {"d":"2026-04-20","s":"S&P 500","v":4.2},
      {"d":"2026-04-21","s":"S&P 500","v":3.65},
      {"d":"2026-04-22","s":"S&P 500","v":4.7},
      {"d":"2026-04-23","s":"S&P 500","v":4.35},
      {"d":"2026-04-24","s":"S&P 500","v":5.1},
      {"d":"2026-04-26","s":"S&P 500","v":5.1},
      {"d":"2026-04-27","s":"S&P 500","v":5.25},
      {"d":"2026-04-28","s":"S&P 500","v":4.8},
      {"d":"2026-04-29","s":"S&P 500","v":4.7},
      {"d":"2026-04-30","s":"S&P 500","v":5.75},
      {"d":"2026-05-01","s":"S&P 500","v":6.1},
      {"d":"2026-05-03","s":"S&P 500","v":6.1},
      {"d":"2026-05-04","s":"S&P 500","v":5.7},
      {"d":"2026-05-05","s":"S&P 500","v":6.55},
      {"d":"2026-05-06","s":"S&P 500","v":8.05},
      {"d":"2026-05-07","s":"S&P 500","v":7.7},
      {"d":"2026-05-08","s":"S&P 500","v":8.6},
      {"d":"2026-05-10","s":"S&P 500","v":8.6},
      {"d":"2026-05-11","s":"S&P 500","v":8.8},
      {"d":"2026-05-12","s":"S&P 500","v":8.7},
      {"d":"2026-05-14","s":"S&P 500","v":10.05},
      {"d":"2026-05-15","s":"S&P 500","v":8.7},
      {"d":"2026-05-17","s":"S&P 500","v":8.7},
      {"d":"2026-05-18","s":"S&P 500","v":8.6},
      {"d":"2026-05-19","s":"S&P 500","v":7.9},
      {"d":"2026-05-20","s":"S&P 500","v":9.05},
      {"d":"2026-05-21","s":"S&P 500","v":9.3},
      {"d":"2026-05-22","s":"S&P 500","v":9.7},
      {"d":"2026-05-25","s":"S&P 500","v":9.7},
      {"d":"2026-05-26","s":"S&P 500","v":10.3},
      {"d":"2026-05-27","s":"S&P 500","v":10.4},
      {"d":"2026-05-28","s":"S&P 500","v":11.0},
      {"d":"2026-05-29","s":"S&P 500","v":11.3},
      {"d":"2026-05-31","s":"S&P 500","v":11.3},
      {"d":"2026-06-01","s":"S&P 500","v":11.5},
      {"d":"2026-06-02","s":"S&P 500","v":11.65},
      {"d":"2026-06-03","s":"S&P 500","v":10.85},
      {"d":"2026-06-04","s":"S&P 500","v":11.3},
      {"d":"2026-06-05","s":"S&P 500","v":8.4},
      {"d":"2026-06-07","s":"S&P 500","v":8.4},
      {"d":"2026-06-08","s":"S&P 500","v":8.65},
      {"d":"2026-06-09","s":"S&P 500","v":8.4},
      {"d":"2026-06-10","s":"S&P 500","v":6.65},
      {"d":"2026-06-11","s":"S&P 500","v":8.55},
      {"d":"2026-06-12","s":"S&P 500","v":9.05},
      {"d":"2026-06-14","s":"S&P 500","v":9.05},
      {"d":"2026-06-15","s":"S&P 500","v":10.6},
      {"d":"2026-06-16","s":"S&P 500","v":10.2},
      {"d":"2026-06-17","s":"S&P 500","v":8.95},
      {"d":"2026-06-18","s":"S&P 500","v":10.05},
      {"d":"2026-06-21","s":"S&P 500","v":10.05},
      {"d":"2026-06-22","s":"S&P 500","v":9.55},
      {"d":"2026-06-23","s":"S&P 500","v":8.1},
      {"d":"2026-06-24","s":"S&P 500","v":7.95},
      {"d":"2026-06-28","s":"S&P 500","v":7.9},
      {"d":"2026-06-29","s":"S&P 500","v":8.6},
      {"d":"2026-06-30","s":"S&P 500","v":10.0},
      {"d":"2026-07-01","s":"S&P 500","v":9.8},
      {"d":"2026-07-05","s":"S&P 500","v":9.8},
      {"d":"2026-07-06","s":"S&P 500","v":10.6},
      {"d":"2026-07-07","s":"S&P 500","v":10.1},
      {"d":"2026-07-08","s":"S&P 500","v":9.85},
      {"d":"2026-07-09","s":"S&P 500","v":10.75},
      {"d":"2026-07-10","s":"S&P 500","v":11.15},
      {"d":"2026-07-12","s":"S&P 500","v":11.15},
      {"d":"2026-07-13","s":"S&P 500","v":10.3},
      {"d":"2026-07-15","s":"S&P 500","v":11.15},
      {"d":"2026-07-16","s":"S&P 500","v":10.6},
      {"d":"2026-07-17","s":"S&P 500","v":9.45},
      {"d":"2026-07-19","s":"S&P 500","v":9.45},
      {"d":"2026-07-20","s":"S&P 500","v":9.25},
      {"d":"2026-07-21","s":"S&P 500","v":10.15},
      {"d":"2026-07-22","s":"S&P 500","v":10.0},
      {"d":"2026-07-23","s":"S&P 500","v":8.7},
      {"d":"2026-07-27","s":"S&P 500","v":8.7},
      {"d":"2026-07-29","s":"S&P 500","v":7.35},
      {"d":"2026-07-30","s":"S&P 500","v":9.2},
      {"d":"2026-07-31","s":"S&P 500","v":9.95},
      {"d":"2026-08-02","s":"S&P 500","v":9.95},
      {"d":"2026-08-03","s":"S&P 500","v":12.5},
      {"d":"2026-08-04","s":"S&P 500","v":13.55},
      {"d":"2026-08-05","s":"S&P 500","v":13.61}
    ]
  },
  "layer": [
    {
      "transform": [{"filter": "datum.s === 'Return'"}],
      "mark": {"type": "area", "color": "#0ca47c", "opacity": 0.2},
      "encoding": {
        "x": {
          "field": "d",
          "type": "temporal",
          "title": null,
          "scale": {
            "type": "utc",
            "domain": [
              {"year": 2025, "month": 12, "date": 1, "utc": true},
              {"year": 2026, "month": 8, "date": 5, "utc": true}
            ]
          },
          "axis": {
            "values": [
              {"year": 2025, "month": 12, "date": 1, "utc": true},
              {"year": 2026, "month": 1, "date": 1, "utc": true},
              {"year": 2026, "month": 2, "date": 1, "utc": true},
              {"year": 2026, "month": 3, "date": 1, "utc": true},
              {"year": 2026, "month": 4, "date": 1, "utc": true},
              {"year": 2026, "month": 5, "date": 1, "utc": true},
              {"year": 2026, "month": 6, "date": 1, "utc": true},
              {"year": 2026, "month": 7, "date": 1, "utc": true},
              {"year": 2026, "month": 8, "date": 1, "utc": true}
            ],
            "format": "%b %Y",
            "labelFontSize": 40,
            "labelAngle": -45,
            "labelAlign": "center",
            "labelBaseline": "middle",
            "labelPadding": 84,
            "labelOverlap": false,
            "labelFlush": false
          }
        },
        "y": {
          "field": "v",
          "type": "quantitative",
          "title": "Return (%)",
          "scale": {"domain": [-10.17, 28.25], "nice": false, "zero": false},
          "axis": {
            "values": [-10, -5, 0, 5, 10, 15, 20, 25],
            "labelExpr": "'' + datum.value",
            "labelPadding": 9,
            "titlePadding": 12
          }
        },
        "y2": {"datum": 0}
      }
    },
    {
      "transform": [{"filter": "datum.s === 'Drawdown'"}],
      "mark": {"type": "area", "color": "#e74c3c", "opacity": 0.2},
      "encoding": {
        "x": {"field": "d", "type": "temporal"},
        "y": {"field": "v", "type": "quantitative"},
        "y2": {"datum": 0}
      }
    },
    {
      "data": {"values": [{"zero": 0}]},
      "mark": {"type": "rule", "color": "#8c8c8c", "strokeWidth": 2, "strokeDash": [8, 4], "opacity": 0.8},
      "encoding": {"y": {"field": "zero", "type": "quantitative"}}
    },
    {
      "transform": [{"filter": "datum.s === 'Return'"}],
      "mark": {"type": "line", "strokeWidth": 6, "strokeJoin": "round"},
      "encoding": {
        "x": {"field": "d", "type": "temporal"},
        "y": {"field": "v", "type": "quantitative"},
        "color": {
          "field": "s",
          "type": "nominal",
          "scale": {
            "domain": ["Return", "Risk (Stop Loss)", "Drawdown", "S&P 500"],
            "range": ["#0ca47c", "#f39200", "#e74c3c", "#808080"]
          },
          "legend": {
            "title": null,
            "orient": "none",
            "legendX": 42,
            "legendY": 41,
            "symbolType": "stroke",
            "symbolSize": 10404,
            "symbolStrokeWidth": 5,
            "clipHeight": 50,
            "labelFontSize": 50,
            "labelColor": "#262626",
            "labelLimit": 0,
            "labelOffset": 37,
            "rowPadding": 21,
            "padding": 0
          }
        },
        "strokeDash": {
          "field": "s",
          "type": "nominal",
          "scale": {
            "domain": ["Return", "Risk (Stop Loss)", "Drawdown", "S&P 500"],
            "range": [[1, 0], [19, 8], [1, 0], [1, 0]]
          },
          "legend": {
            "title": null,
            "orient": "none",
            "legendX": 42,
            "legendY": 41,
            "symbolType": "stroke",
            "symbolSize": 10404,
            "symbolStrokeWidth": 5,
            "clipHeight": 50,
            "labelFontSize": 50,
            "labelColor": "#262626",
            "labelLimit": 0,
            "labelOffset": 37,
            "rowPadding": 21,
            "padding": 0
          }
        }
      }
    },
    {
      "transform": [{"filter": "datum.s === 'Risk (Stop Loss)'"}],
      "mark": {"type": "line", "strokeWidth": 4.8, "strokeJoin": "round"},
      "encoding": {
        "x": {"field": "d", "type": "temporal"},
        "y": {"field": "v", "type": "quantitative"},
        "color": {"field": "s", "type": "nominal"},
        "strokeDash": {"field": "s", "type": "nominal"}
      }
    },
    {
      "transform": [{"filter": "datum.s === 'Drawdown'"}],
      "mark": {"type": "line", "strokeWidth": 4.8, "strokeJoin": "round"},
      "encoding": {
        "x": {"field": "d", "type": "temporal"},
        "y": {"field": "v", "type": "quantitative"},
        "color": {"field": "s", "type": "nominal"},
        "strokeDash": {"field": "s", "type": "nominal"}
      }
    },
    {
      "transform": [{"filter": "datum.s === 'S&P 500'"}],
      "mark": {"type": "line", "strokeWidth": 4.8, "strokeJoin": "round"},
      "encoding": {
        "x": {"field": "d", "type": "temporal"},
        "y": {"field": "v", "type": "quantitative"},
        "color": {"field": "s", "type": "nominal"},
        "strokeDash": {"field": "s", "type": "nominal"}
      }
    },
    {
      "data": {"name": "ends"},
      "mark": {"type": "point", "filled": true, "fill": "white", "size": 40000, "strokeWidth": 3, "opacity": 1, "xOffset": 6},
      "encoding": {
        "x": {"field": "d", "type": "temporal"},
        "y": {"field": "v", "type": "quantitative"},
        "shape": {
          "field": "k",
          "type": "nominal",
          "scale": {
            "domain": ["R", "K", "D", "S"],
            "range": [
              "M0.1,-0.325H1.7Q1.8,-0.325 1.8,-0.225V0.225Q1.8,0.325 1.7,0.325H0.1Q0,0.325 0,0.225V-0.225Q0,-0.325 0.1,-0.325Z",
              "M0.1,-0.325H1.5Q1.6,-0.325 1.6,-0.225V0.225Q1.6,0.325 1.5,0.325H0.1Q0,0.325 0,0.225V-0.225Q0,-0.325 0.1,-0.325Z",
              "M0.1,-0.325H1.4Q1.5,-0.325 1.5,-0.225V0.225Q1.5,0.325 1.4,0.325H0.1Q0,0.325 0,0.225V-0.225Q0,-0.325 0.1,-0.325Z",
              "M0.1,-0.325H1.7Q1.8,-0.325 1.8,-0.225V0.225Q1.8,0.325 1.7,0.325H0.1Q0,0.325 0,0.225V-0.225Q0,-0.325 0.1,-0.325Z"
            ]
          },
          "legend": null
        },
        "stroke": {
          "field": "k",
          "type": "nominal",
          "scale": {
            "domain": ["R", "K", "D", "S"],
            "range": ["#0ca47c", "#f39200", "#e74c3c", "#808080"]
          },
          "legend": null
        }
      }
    },
    {
      "data": {"name": "ends"},
      "mark": {"type": "text", "align": "left", "baseline": "middle", "fontSize": 36.5, "dx": 23},
      "encoding": {
        "x": {"field": "d", "type": "temporal"},
        "y": {"field": "v", "type": "quantitative"},
        "text": {"field": "lab"},
        "fill": {
          "field": "k",
          "type": "nominal",
          "scale": {
            "domain": ["R", "K", "D", "S"],
            "range": ["#0ca47c", "#f39200", "#e74c3c", "#808080"]
          },
          "legend": null
        }
      }
    }
  ]
}
